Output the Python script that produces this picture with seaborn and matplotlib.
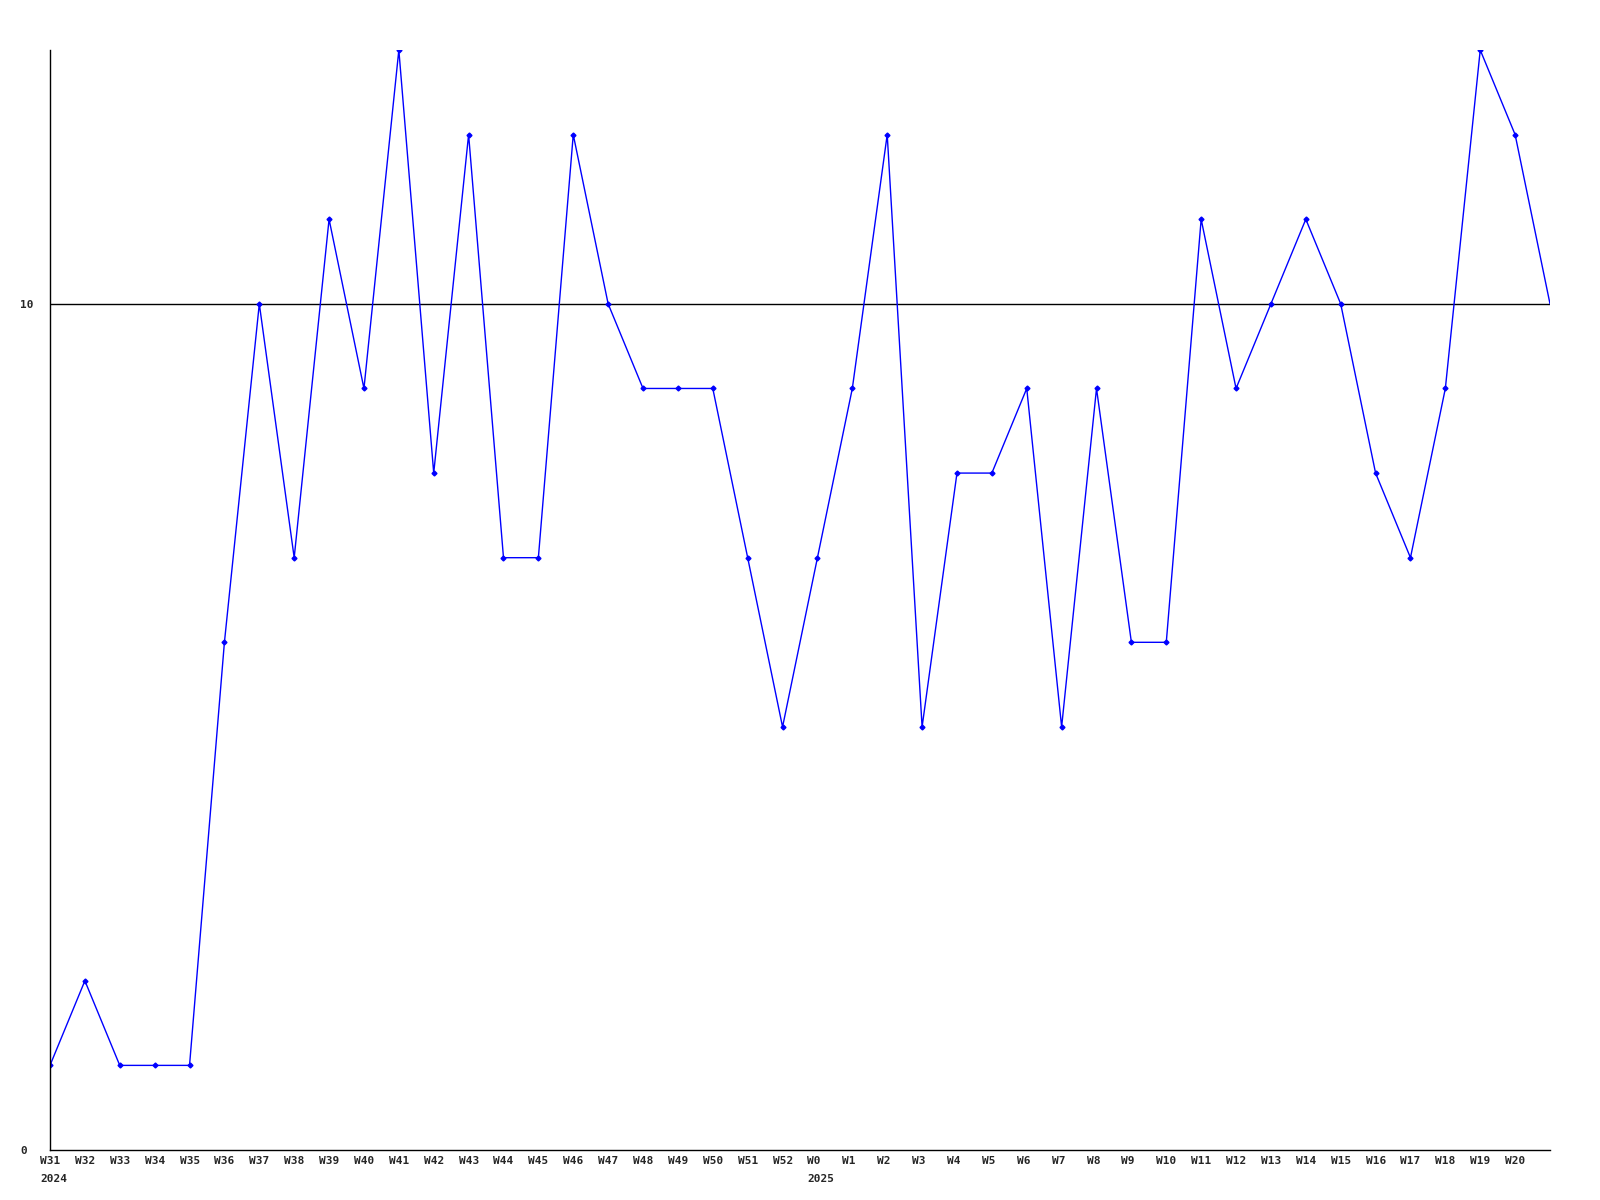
import numpy as np
import matplotlib.pyplot as plt
import matplotlib.transforms as mtransforms
import seaborn as sns
import pandas as pd

# weekly counts
weeks = ["W31", "W32", "W33", "W34", "W35", "W36", "W37", "W38", "W39", "W40",
         "W41", "W42", "W43", "W44", "W45", "W46", "W47", "W48", "W49", "W50",
         "W51", "W52", "W0", "W1", "W2", "W3", "W4", "W5", "W6", "W7",
         "W8", "W9", "W10", "W11", "W12", "W13", "W14", "W15", "W16", "W17",
         "W18", "W19", "W20", ""]
years = {"W31": "2024", "W0": "2025"}
counts = [1, 2, 1, 1, 1, 6, 10, 7, 11, 9,
          13, 8, 12, 7, 7, 12, 10, 9, 9, 9,
          7, 5, 7, 9, 12, 5, 8, 8, 9, 5,
          9, 6, 6, 11, 9, 10, 11, 10, 8, 7,
          9, 13, 12, 10]

df = pd.DataFrame({"idx": np.arange(len(counts)), "count": counts})

sns.set_style("white")
plt.rcParams["font.family"] = ["DejaVu Sans Mono"]

fig = plt.figure(figsize=(16, 12), dpi=100)
ax = fig.add_axes([50 / 1600, 50 / 1200, 1500 / 1600, 1100 / 1200])

sns.lineplot(data=df, x="idx", y="count", ax=ax, color="#0000ff", linewidth=1)
# markers on every point except the trailing one
ax.plot(df["idx"][:-1], df["count"][:-1], linestyle="none", marker="D",
        markersize=2.5, color="#0000ff")

ax.axhline(10, color="black", linewidth=1, zorder=0)

ax.set_xlim(0, len(counts) - 1)
ax.set_ylim(0, 13)
ax.set_yticks([0, 10])
ax.set_yticklabels(["0", "10"], fontsize=8, fontweight="bold")
for lab in ax.get_yticklabels():
    lab.set_horizontalalignment("left")
ax.tick_params(axis="y", length=0, pad=21.6)

# week labels start ~10px left of their point
ax.set_xticks(df["idx"])
ax.set_xticklabels(weeks, fontsize=8, fontweight="bold", ha="left")
ax.tick_params(axis="x", length=0, pad=4)
shift = mtransforms.ScaledTranslation(-0.10, 0, fig.dpi_scale_trans)
for lab in ax.get_xticklabels():
    lab.set_transform(lab.get_transform() + shift)

# year labels under the first week of each year
trans = mtransforms.offset_copy(ax.get_xaxis_transform(), fig=fig,
                                x=-10, y=0, units="dots")
for i, w in enumerate(weeks):
    if w in years:
        ax.text(i, -0.022, years[w], transform=trans, ha="left", va="top",
                fontsize=8, fontweight="bold")

ax.set_xlabel("")
ax.set_ylabel("")
for s in ["top", "right"]:
    ax.spines[s].set_visible(False)
for s in ["left", "bottom"]:
    ax.spines[s].set_color("black")
    ax.spines[s].set_linewidth(1)

fig.savefig("out.png", dpi=100, facecolor="white")
